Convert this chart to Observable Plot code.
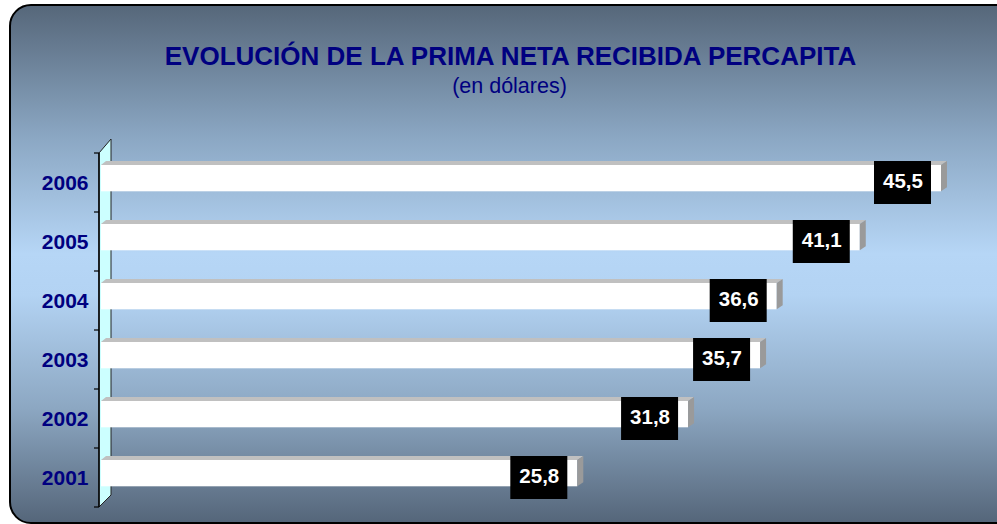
<!DOCTYPE html>
<html><head><meta charset="utf-8">
<script src="https://cdn.jsdelivr.net/npm/d3@7"></script>
<script src="https://cdn.jsdelivr.net/npm/@observablehq/plot@0.6"></script>
<style>
html,body{margin:0;padding:0;width:997px;height:524px;overflow:hidden;background:#fff;font-family:"Liberation Sans",Arial,sans-serif;}
#wrap{position:relative;width:997px;height:524px;overflow:hidden;}
#panel{position:absolute;left:9px;top:4px;width:1030px;height:516px;border:2px solid #000;border-radius:22px;
  background:linear-gradient(to bottom,#56677a 0%,#8aa6c2 25%,#b6d6f6 48%,#b3d3f3 56%,#8ca7c2 78%,#55667a 100%);}
#title{position:absolute;left:0;width:1021px;top:43px;text-align:center;font-weight:bold;font-size:26px;line-height:26px;color:#000080;white-space:nowrap;}
#subtitle{position:absolute;left:0;width:1019px;top:76px;text-align:center;font-size:21.5px;line-height:21.5px;color:#000080;white-space:nowrap;}
#chart{position:absolute;left:0;top:120px;}
#chart svg{overflow:visible;}
</style>
</head><body>
<div id="wrap">
  <div id="panel"></div>
  <div id="title"></div>
  <div id="subtitle"></div>
  <div id="chart"></div>
</div>
<script>
const titleText = "EVOLUCIÓN DE LA PRIMA NETA RECIBIDA PERCAPITA";
const subtitleText = "(en dólares)";
const years = ["2006", "2005", "2004", "2003", "2002", "2001"];
const values = [45.5, 41.1, 36.6, 35.7, 31.8, 25.8];
const valueLabels = ["45,5", "41,1", "36,6", "35,7", "31,8", "25,8"];

document.getElementById("title").textContent = titleText;
document.getElementById("subtitle").textContent = subtitleText;

const data = years.map((year, i) => ({year, value: values[i], label: valueLabels[i]}));
const FONT = "Liberation Sans, Arial, sans-serif";

function bandInfo(scales) {
  const y = scales.y;
  const bw = Math.abs(y(years[1]) - y(years[0]));
  return {y, bw};
}

// 3D axis wall with ticks at band boundaries
function wall(index, scales, values, dimensions) {
  const {y, bw} = bandInfo(scales);
  const x0 = scales.x(0);
  const top = y(years[0]);
  const bot = y(years[years.length - 1]) + bw;
  const g = d3.create("svg:g");
  g.append("polygon")
    .attr("points", [[x0 - 2, top], [x0 + 10, top - 14], [x0 + 10, bot - 12], [x0 - 2, bot]].join(" "))
    .attr("fill", "#ccffff").attr("stroke", "#222").attr("stroke-width", 1);
  g.append("line").attr("x1", x0 - 2).attr("x2", x0 - 2).attr("y1", top).attr("y2", bot)
    .attr("stroke", "#000").attr("stroke-width", 1.5);
  for (let i = 0; i <= years.length; i++) {
    const yy = i < years.length ? y(years[i]) : bot;
    g.append("line").attr("x1", x0 - 7).attr("x2", x0 - 2).attr("y1", yy).attr("y2", yy)
      .attr("stroke", "#000").attr("stroke-width", 1.2);
  }
  return g.node();
}

// top and side faces of the 3D bars
function faces(index, scales) {
  const {y, bw} = bandInfo(scales);
  const x = scales.x;
  const x0 = x(0);
  const g = d3.create("svg:g");
  data.forEach(d => {
    const yt = y(d.year) + 12;
    const yb = y(d.year) + bw - 20.7;
    const xv = x(d.value);
    g.append("polygon")
      .attr("points", [[x0, yt], [x0 + 5, yt - 4], [xv + 6, yt - 4], [xv, yt]].join(" "))
      .attr("fill", "#c0c0c0");
    g.append("polygon")
      .attr("points", [[xv, yt], [xv + 6, yt - 4], [xv + 6, yb - 4], [xv, yb]].join(" "))
      .attr("fill", "#9a9a9a");
  });
  return g.node();
}

const chart = Plot.plot({
  width: 997,
  height: 404,
  marginLeft: 101,
  marginRight: 56,
  marginTop: 31,
  marginBottom: 15,
  style: {background: "transparent", overflow: "visible", fontFamily: FONT},
  x: {domain: [0, d3.max(values)], axis: null},
  y: {domain: years, padding: 0, axis: null},
  marks: [
    wall,
    Plot.barX(data, {x: "value", y: "year", insetTop: 12, insetBottom: 20.7, fill: "white"}),
    faces,
    Plot.barX(data, {x1: "value", x2: "value", y: "year", insetLeft: -67, insetRight: 10, insetTop: 8, insetBottom: 8, fill: "black"}),
    Plot.text(data, {x: "value", y: "year", text: "label", dx: -38.5, dy: -2, fill: "white",
      fontWeight: "bold", fontSize: 20.5, fontFamily: FONT}),
    Plot.text(data, {y: "year", text: "year", frameAnchor: "left", dx: -13, textAnchor: "end",
      fill: "#000080", fontWeight: "bold", fontSize: 21, fontFamily: FONT})
  ]
});
document.getElementById("chart").appendChild(chart);
</script>
</body></html>
